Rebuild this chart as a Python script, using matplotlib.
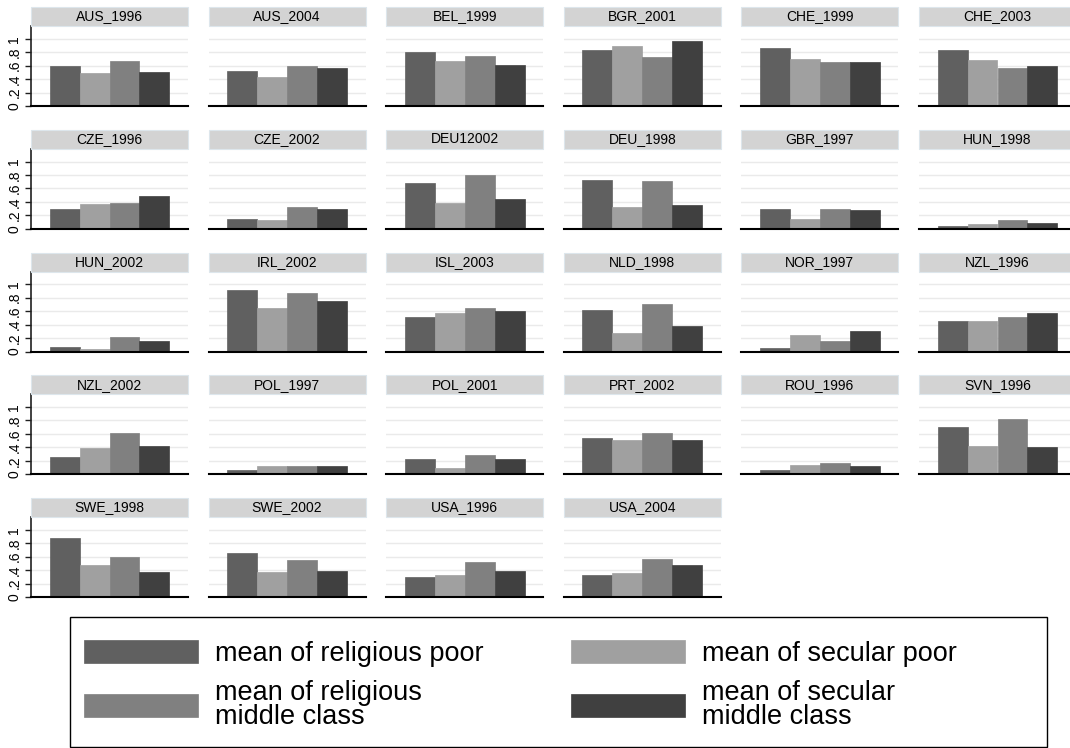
import matplotlib
matplotlib.use("Agg")
import matplotlib.pyplot as plt
from matplotlib.patches import Rectangle

plt.rcParams['font.family'] = ['Liberation Sans', 'DejaVu Sans']

panels = ["AUS_1996", "AUS_2004", "BEL_1999", "BGR_2001", "CHE_1999", "CHE_2003",
          "CZE_1996", "CZE_2002", "DEU12002", "DEU_1998", "GBR_1997", "HUN_1998",
          "HUN_2002", "IRL_2002", "ISL_2003", "NLD_1998", "NOR_1997", "NZL_1996",
          "NZL_2002", "POL_1997", "POL_2001", "PRT_2002", "ROU_1996", "SVN_1996",
          "SWE_1998", "SWE_2002", "USA_1996", "USA_2004"]

rel_poor = [0.60, 0.52, 0.80, 0.84, 0.87, 0.84,
            0.30, 0.15, 0.68, 0.73, 0.30, 0.04,
            0.06, 0.91, 0.51, 0.62, 0.05, 0.455,
            0.25, 0.07, 0.22, 0.545, 0.07, 0.71,
            0.88, 0.65, 0.30, 0.32]
sec_poor = [0.49, 0.43, 0.67, 0.89, 0.70, 0.69,
            0.37, 0.13, 0.39, 0.33, 0.15, 0.07,
            0.035, 0.65, 0.57, 0.27, 0.24, 0.455,
            0.39, 0.12, 0.10, 0.51, 0.14, 0.42,
            0.48, 0.37, 0.33, 0.36]
rel_mid = [0.67, 0.60, 0.74, 0.73, 0.65, 0.57,
           0.39, 0.33, 0.80, 0.71, 0.30, 0.13,
           0.22, 0.87, 0.65, 0.71, 0.15, 0.515,
           0.62, 0.12, 0.29, 0.62, 0.16, 0.82,
           0.60, 0.55, 0.52, 0.57]
sec_mid = [0.51, 0.56, 0.61, 0.96, 0.65, 0.60,
           0.48, 0.29, 0.44, 0.35, 0.28, 0.09,
           0.16, 0.75, 0.60, 0.38, 0.31, 0.57,
           0.42, 0.12, 0.23, 0.51, 0.12, 0.40,
           0.37, 0.39, 0.38, 0.48]

series_labels = ["mean of religious poor", "mean of secular poor",
                 "mean of religious\nmiddle class", "mean of secular\nmiddle class"]
series_colors = ["#606060", "#a0a0a0", "#808080", "#404040"]
yticks = [0, 0.2, 0.4, 0.6, 0.8, 1.0]
ytick_labels = ["0", ".2", ".4", ".6", ".8", "1"]

W, H = 1070, 748
fig = plt.figure(figsize=(W / 100, H / 100), dpi=100)
fig.patch.set_facecolor("white")

all_series = [rel_poor, sec_poor, rel_mid, sec_mid]
handles = []
for i, name in enumerate(panels):
    r, c = divmod(i, 6)
    left = 31 + c * 177.6
    base = 106 + r * 122.75
    ax = fig.add_axes([left / W, 1 - base / H, 157 / W, 80 / H])
    hs = []
    for k, vals in enumerate(all_series):
        b = ax.bar(k, vals[i], width=1.0, color=series_colors[k],
                   edgecolor=series_colors[k], linewidth=0.5, zorder=3)
        hs.append(b)
    if i == 0:
        handles = hs
    ax.set_xlim(-1.12, 4.12)
    ax.set_ylim(0, 1.19)
    ax.set_xticks([])
    ax.set_yticks(yticks)
    for y in yticks[1:]:
        ax.axhline(y, color="#eaeaea", lw=1.0, zorder=1)
    for s in ["top", "right"]:
        ax.spines[s].set_visible(False)
    ax.spines["bottom"].set_color("#000000")
    ax.spines["bottom"].set_linewidth(1.5)
    ax.spines["bottom"].set_zorder(4)
    if c == 0:
        ax.spines["left"].set_color("#202020")
        ax.spines["left"].set_linewidth(1.2)
        ax.set_yticklabels(ytick_labels, rotation=90, va="center", fontsize=10)
        ax.tick_params(axis="y", length=4, width=1, pad=3, color="#202020")
    else:
        ax.spines["left"].set_visible(False)
        ax.tick_params(axis="y", length=0, labelleft=False)
    ax.set_facecolor("white")
    ax.add_patch(Rectangle((0, 1.0), 1, 19 / 80, transform=ax.transAxes,
                           facecolor="#d3d3d3", edgecolor="#dde6ec", lw=0.8,
                           clip_on=False, zorder=5))
    ax.text(0.5, 1.0 + 9.5 / 80, name, transform=ax.transAxes, ha="center",
            va="center", fontsize=10, color="#000000", zorder=6)

# legend frame drawn separately so its padding can differ from the content placement
fig.add_artist(Rectangle((70 / W, 1.5 / H), 977 / W, (748 - 617 - 1.5) / H,
                         transform=fig.transFigure, facecolor="white",
                         edgecolor="#000000", lw=1.0, zorder=1))

# legend filled column-wise: reorder so rows read left-to-right
order = [0, 2, 1, 3]
leg = fig.legend([handles[k][0] for k in order], [series_labels[k] for k in order],
                 ncol=2, loc="upper left",
                 bbox_to_anchor=(84 / W, 1 - 640 / H),
                 borderaxespad=0, borderpad=0, fontsize=19.5,
                 frameon=False,
                 handlelength=4.2, handleheight=0.93, handletextpad=0.63,
                 labelspacing=0.5, columnspacing=3.25)
leg.set_zorder(2)
for t in leg.get_texts():
    t.set_linespacing(0.88)

fig.savefig("out.png", dpi=100, facecolor="white")
